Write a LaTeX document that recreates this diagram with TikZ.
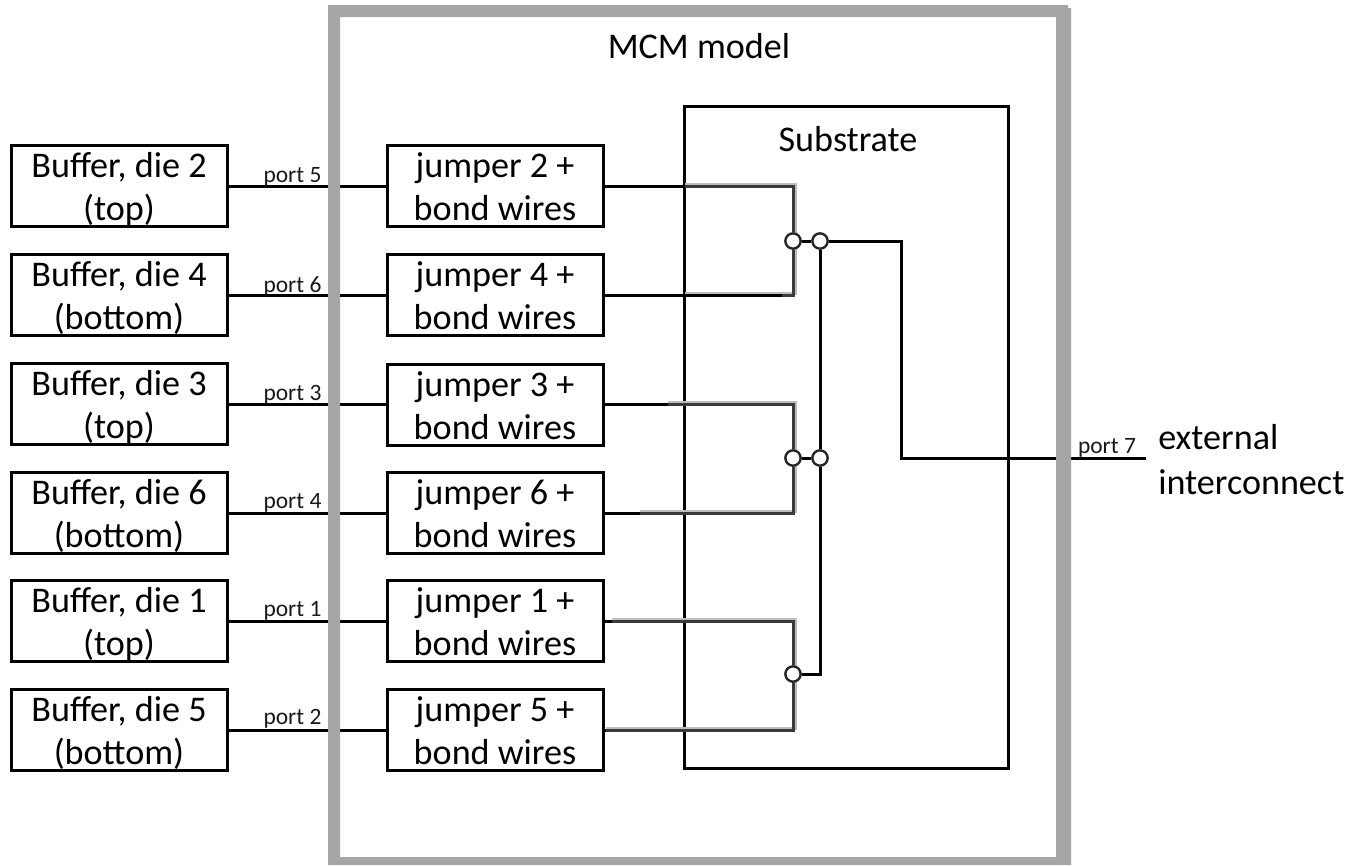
\documentclass[tikz,border=0pt]{standalone}
\usepackage{fontspec}
\setmainfont{Carlito}
\definecolor{framegray}{HTML}{A6A6A6}
\definecolor{halogray}{HTML}{BDBDBD}
\definecolor{darkwire}{HTML}{3A3A3A}
\newcommand{\twolines}[2]{\rule[-2.35pt]{0pt}{24pt}\smash{#1}\\\rule[-2.35pt]{0pt}{24pt}\smash{#2}}
\tikzset{
  blockbox/.style={draw=black,line width=2.25pt,fill=white,minimum width=162pt,minimum height=60.5pt,inner sep=0pt,align=center,font=\fontsize{27.1}{32}\selectfont},
  wire/.style={draw=black,line width=2.25pt,line join=miter},
  halo/.style={draw=halogray,line width=2.25pt},
  darkline/.style={draw=darkwire,line width=2.25pt},
  junct/.style={circle,draw=black!85,line width=1.8pt,fill=white,minimum size=11.5pt,inner sep=0pt},
  portlabel/.style={font=\fontsize{17.6}{20}\selectfont,inner sep=0pt,text=black!90},
  biglabel/.style={font=\fontsize{27.1}{32}\selectfont,inner sep=0pt},
  substr/.style={draw=black,line width=1.9pt}
}
\begin{document}
\begin{tikzpicture}[x=0.75pt,y=-0.75pt]
\useasboundingbox (0,0) rectangle (1363,865);
\fill[white] (0,0) rectangle (1363,865);

% substrate
\node[substr,minimum width=243pt,minimum height=496.5pt,inner sep=0pt] (sub) at (846.5,437.5) {};

% blocks
\node[blockbox] (b2) at (119,186) {\twolines{Buffer, die 2}{(top)}};
\node[blockbox] (b4) at (119,295) {\twolines{Buffer, die 4}{(bottom)}};
\node[blockbox] (b3) at (119,404) {\twolines{Buffer, die 3}{(top)}};
\node[blockbox] (b6) at (119,513) {\twolines{Buffer, die 6}{(bottom)}};
\node[blockbox] (b1) at (119,621) {\twolines{Buffer, die 1}{(top)}};
\node[blockbox] (b5) at (119,730) {\twolines{Buffer, die 5}{(bottom)}};
\node[blockbox] (j2) at (495,186) {\twolines{jumper 2 +}{bond wires}};
\node[blockbox] (j4) at (495,295) {\twolines{jumper 4 +}{bond wires}};
\node[blockbox] (j3) at (495,405) {\twolines{jumper 3 +}{bond wires}};
\node[blockbox] (j6) at (495,513) {\twolines{jumper 6 +}{bond wires}};
\node[blockbox] (j1) at (495,621) {\twolines{jumper 1 +}{bond wires}};
\node[blockbox] (j5) at (495,730) {\twolines{jumper 5 +}{bond wires}};

% scanner-like halo on the wires inside the substrate
\draw[halo] (685,184) -- (795,184) -- (795,293) -- (685,293);
\draw[halo] (668,402) -- (795,402) -- (795,511) -- (640,511);
\draw[halo] (612,619) -- (795,619) -- (795,728) -- (606,728);

% junctions
\node[junct] (n1) at (793,241) {};
\node[junct] (n2) at (820,241) {};
\node[junct] (n3) at (793,458) {};
\node[junct] (n4) at (820,458) {};
\node[junct] (n5) at (793,674) {};
\coordinate (bend) at (901,241);
\coordinate (bendb) at (901,458);
\coordinate (extend) at (1146,458);

% connectors
\foreach \n in {2,4,1,5,6} \draw[wire] (b\n.east) -- (j\n.west);
\draw[wire] (b3.east) -- (j3.west |- b3.east);
\draw[wire] (j2.east) -| (n1.north);
\draw[wire] (j4.east) -| (n1.south);
\draw[wire] (j3.east |- b3.east) -| (n3.north);
\draw[wire] (j6.east) -| (n3.south);
\draw[wire] (j1.east) -| (n5.north);
\draw[wire] (j5.east) -| (n5.south);
\draw[wire] (n1.east) -- (n2.west);
\draw[wire] (n3.east) -- (n4.west);
\draw[wire] (n2.south) -- (n4.north);
\draw[wire] (n4.south) |- (n5.east);
\draw[wire] (n2.east) -- (bend) -- (bendb) -- (extend);

% re-darkened wire portions
\draw[darkline] (685,186) -- (793,186) -- (n1.north);
\draw[darkline] (n1.south) -- (793,295) -- (782,295);
\draw[darkline] (668,404) -- (793,404) -- (n3.north);
\draw[darkline] (n3.south) -- (793,513) -- (640,513);
\draw[darkline] (612,621) -- (793,621) -- (n5.north);
\draw[darkline] (n5.south) -- (793,730) -- (606,730);

% labels
\node[portlabel] (p5) at (292.5,177) {port 5};
\node[portlabel] (p6) at (292.5,286) {port 6};
\node[portlabel] (p3) at (292.5,395) {port 3};
\node[portlabel] (p4) at (292.5,503) {port 4};
\node[portlabel] (p1) at (292.5,611) {port 1};
\node[portlabel] (p2) at (292.5,719) {port 2};
\node[portlabel] (p7) at (1107,448) {port 7};
\node[biglabel] (mcm) at (699,46) {MCM model};
\node[biglabel] (subl) at (848,139) {Substrate};
\node[biglabel,anchor=west] (ext1) at (1158,437) {external};
\node[biglabel,anchor=west] (ext2) at (1158,482) {interconnect};

% MCM frame sits on top of the wires
\fill[framegray,even odd rule]
  (328,5) -- (1068,5) -- (1068,8) -- (1071,8) -- (1071,865) -- (328,865) -- cycle
  (340,17) -- (1056,17) -- (1056,857) -- (340,857) -- cycle;
\end{tikzpicture}
\end{document}
